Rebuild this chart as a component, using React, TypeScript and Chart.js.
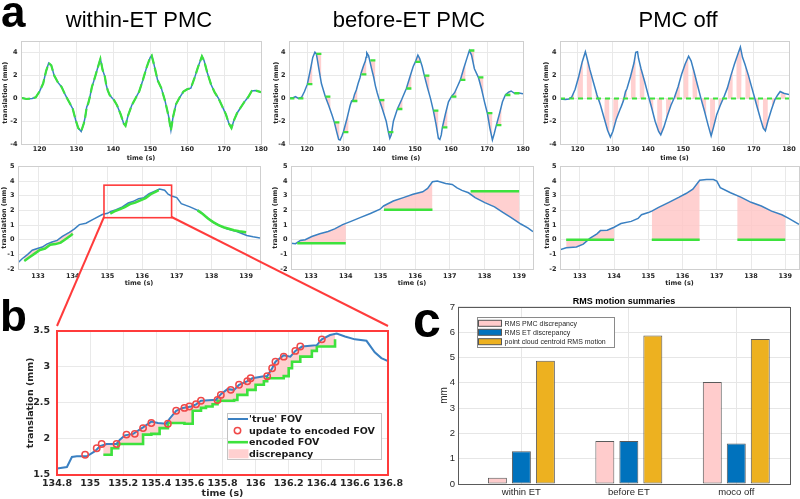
import React, { useEffect, useRef } from "react";
import { Chart, registerables } from "chart.js";

Chart.register(...registerables);

type Pt = [number, number];
type Layout = { l: number; t: number; r: number; b: number; yw: number; xh: number; pt: number; pr: number };

// ---------------- panel a, top row (115–180 s) ----------------
const TOP_X: Pt = [115, 180];
const TOP_Y: Pt = [-4, 5];

// ET windows [start, end] (s)
const ET_WINDOWS: Pt[] = [
  [115.1, 116.5], [117.6, 119.0], [120.1, 121.5], [122.6, 124.0], [125.1, 126.5], [127.6, 129.0],
  [130.1, 131.5], [132.6, 134.0], [135.1, 136.5], [137.6, 139.0], [140.1, 141.5], [142.6, 144.0],
  [145.1, 146.5], [147.6, 149.0], [150.1, 151.5], [152.6, 154.0], [155.1, 156.5], [157.6, 159.0],
  [160.1, 161.5], [162.6, 164.0], [165.1, 166.5], [167.6, 169.0], [170.1, 171.5], [172.6, 174.0],
  [175.1, 176.5], [177.6, 179.0],
];

// within-ET PMC: true FOV (encoded FOV follows it)
const WITHIN_TRUE: Pt[] = [
  [115, 0.05], [116.5, -0.05], [118, 0.0], [119, 0.1], [120, 0.6], [121, 1.3], [121.8, 2.4], [122.5, 3.1],
  [123.2, 2.9], [124, 2.0], [125, 1.4], [126, 1.0], [127, 0.3], [128, -0.3], [129, -0.9], [129.8, -1.9],
  [130.5, -2.6], [131.3, -2.9], [132, -2.2], [132.4, -1.62], [132.8, -0.75], [133.2, -0.45], [133.7, 0.2],
  [134.2, 1.0], [134.6, 1.4], [135.1, 1.93], [135.7, 2.6], [136.2, 3.14], [136.5, 3.46], [136.8, 3.0],
  [137.1, 2.5], [137.7, 1.93], [138.1, 1.15], [138.5, 0.7], [139, 0.3], [139.5, 0.1], [140.2, -0.15],
  [141, -0.6], [142, -1.4], [142.8, -2.2], [143.3, -2.4], [144, -1.5], [145, -0.6], [146, 0.0], [147, 0.6],
  [148, 1.6], [149, 2.7], [150, 3.6], [150.4, 3.75], [151, 3.0], [152, 1.6], [153, 0.9], [154, -0.2],
  [155, -1.6], [155.6, -2.8], [156.2, -1.6], [157, -0.5], [158, 0.1], [159, 0.6], [160, 0.8], [161, 0.9],
  [162, 1.8], [163, 2.8], [164, 3.7], [164.6, 3.3], [165.5, 2.2], [166.5, 1.2], [167.5, 0.5], [168.5, 0.0],
  [169.5, -0.7], [170.5, -1.4], [171.3, -2.2], [172, -2.6], [172.7, -1.9], [173.5, -1.3], [174.5, -0.8],
  [175.5, -0.3], [176.5, 0.1], [177.5, 0.65], [178.5, 0.7], [180, 0.55],
];

// before-ET PMC
const BEFORE_TRUE: Pt[] = [
  [115, 0.0], [116, 0.05], [116.8, 0.15], [117.6, 0.0], [118.5, 0.1], [119.3, 0.6], [120.1, 1.25], [121, 2.6],
  [121.6, 3.6], [122.2, 4.05], [122.6, 3.9], [123.3, 2.6], [124, 1.3], [125.1, 0.15], [126, -0.6], [127, -1.5],
  [127.6, -2.1], [128.3, -3.0], [128.8, -3.6], [129.2, -3.65], [129.7, -3.3], [130.1, -2.95], [131, -1.9],
  [132, -0.6], [132.4, -0.23], [132.6, -0.25], [132.9, 0.0], [133.2, 0.35], [133.7, 0.74], [134.2, 1.3],
  [134.7, 1.79], [135.1, 2.3], [135.7, 2.87], [136.2, 3.27], [136.4, 3.6], [136.6, 4.0], [137.1, 3.75],
  [137.5, 3.2], [138, 2.53], [138.5, 1.9], [139, 1.1], [139.5, 0.5], [140.1, -0.15], [141, -1.0], [142, -2.0],
  [142.6, -2.95], [143, -3.5], [143.4, -3.2], [144, -2.0], [145.1, -0.93], [146.3, -0.1], [147.6, 0.87],
  [148.6, 1.9], [149.5, 2.8], [150.1, 3.2], [150.8, 3.8], [151.3, 3.5], [152, 2.8], [152.6, 2.0], [153.5, 0.9],
  [154.3, 0.0], [155.1, -1.07], [155.8, -2.2], [156.5, -3.5], [156.9, -3.6], [157.3, -3.2], [157.6, -2.55],
  [158.5, -1.3], [159.3, -0.3], [160.1, 0.15], [161, 0.5], [162, 1.2], [162.6, 1.62], [163.5, 2.6],
  [164.5, 3.6], [165.1, 4.2], [165.7, 3.8], [166.5, 2.6], [167.6, 1.85], [168.5, 0.8], [169.3, -0.3],
  [170.1, -1.3], [170.8, -2.6], [171.5, -3.65], [172, -3.1], [172.6, -2.35], [173.5, -1.3], [174.3, -0.3],
  [175.1, 0.3], [176, 0.55], [176.7, 0.65], [177.6, 0.45], [178.5, 0.5], [180, 0.4],
];
const BEFORE_LEVELS: number[] = [
  0, 0, 1.25, 3.9, 0.15, -2.1, -2.95, -0.23, 2.1, 3.33, -0.15, -2.95, -0.93, 0.87, 3.2, 2.0, -1.07,
  -2.55, 0.15, 1.62, 4.2, 1.85, -1.3, -2.35, 0.3, 0.45,
];

// PMC off
const OFF_TRUE: Pt[] = [
  [115, -0.05], [116.5, -0.1], [117.5, -0.05], [118.3, 0.1], [119.3, 0.8], [120.3, 1.9], [121.3, 3.2],
  [122.2, 4.1], [122.7, 3.5], [123.5, 2.5], [124.5, 1.4], [125.5, 0.3], [126.5, -0.6], [127.5, -1.7],
  [128.5, -2.8], [129.3, -3.4], [130, -2.9], [131, -1.8], [132, -1.0], [132.4, -0.7], [133, -0.2],
  [133.6, 0.6], [134, 0.85], [135, 1.9], [136, 3.1], [136.5, 4.05], [137, 4.1], [137.3, 3.5], [138, 2.6],
  [139, 1.5], [140.2, 0.1], [141, -0.8], [142, -2.0], [143, -2.9], [143.6, -3.2], [144.5, -2.5],
  [145.5, -1.5], [146.5, -0.6], [147.5, 0.1], [148.5, 1.0], [149.5, 2.1], [150.5, 3.0], [151.5, 3.7],
  [152.2, 3.3], [153, 2.4], [154, 1.2], [155, 0.0], [156, -1.1], [157, -2.3], [157.9, -3.3], [158.6, -2.5],
  [159.5, -1.4], [160.5, -0.6], [161.5, 0.1], [162.5, 0.9], [163.5, 2.0], [164.5, 3.0], [165.5, 3.9],
  [166.2, 4.5], [166.8, 3.6], [167.5, 3.0], [168.5, 2.0], [169.3, 1.1], [170.2, 0.1], [171, -0.8],
  [172, -1.9], [172.7, -2.6], [173.3, -2.85], [174, -2.0], [175, -1.0], [176, -0.1], [176.8, 0.3],
  [177.5, 0.6], [178.5, 0.45], [180, 0.35],
];
const OFF_LEVEL = 0;

// ---------------- panel a, bottom row (zoom 132.4–139.4 s) ----------------
const ZOOM_X: Pt = [132.42, 139.4];
const ZOOM_Y: Pt = [-2, 5];
const ZOOM_WINDOWS: Pt[] = [[132.6, 134.0], [135.1, 136.5], [137.6, 139.0]];

const WITHIN_ZOOM_TRUE: Pt[] = [
  [132.4, -1.62], [132.54, -1.3], [132.7, -1.0], [132.83, -0.72], [133.0, -0.58], [133.12, -0.5],
  [133.25, -0.3], [133.4, -0.16], [133.55, -0.05], [133.7, 0.22], [133.9, 0.5], [134.05, 0.74],
  [134.19, 1.03], [134.38, 1.12], [134.6, 1.4], [134.85, 1.72], [135.0, 1.8], [135.1, 1.93], [135.25, 2.05],
  [135.43, 2.24], [135.6, 2.5], [135.73, 2.6], [135.9, 2.8], [136.05, 2.87], [136.2, 3.14], [136.35, 3.3],
  [136.5, 3.46], [136.65, 3.38], [136.75, 3.1], [136.85, 2.98], [137.0, 2.87], [137.13, 2.46],
  [137.38, 2.24], [137.67, 1.93], [137.85, 1.55], [138.05, 1.19], [138.25, 0.95], [138.44, 0.74],
  [138.73, 0.56], [139.02, 0.29], [139.2, 0.2], [139.4, 0.12],
];
const WITHIN_ZOOM_ENC: Pt[][] = [
  [[132.6, -1.45], [132.75, -1.2], [132.9, -0.95], [133.05, -0.7], [133.2, -0.6], [133.35, -0.35],
    [133.5, -0.3], [133.65, -0.2], [133.8, 0.05], [133.95, 0.3], [134.0, 0.4]],
  [[135.08, 1.78], [135.2, 1.93], [135.35, 2.07], [135.5, 2.22], [135.65, 2.43], [135.8, 2.53],
    [135.95, 2.68], [136.1, 2.84], [136.25, 3.1], [136.4, 3.28], [136.48, 3.38]],
  [[137.6, 2.0], [137.75, 1.75], [137.9, 1.45], [138.05, 1.2], [138.2, 1.0], [138.35, 0.85],
    [138.5, 0.75], [138.65, 0.65], [138.8, 0.58], [138.95, 0.52], [139.0, 0.5]],
];

const BEFORE_ZOOM_TRUE: Pt[] = [
  [132.38, -0.23], [132.55, -0.27], [132.69, -0.05], [132.83, 0], [133.02, 0.22], [133.25, 0.4],
  [133.49, 0.56], [133.68, 0.74], [133.91, 1.03], [134.15, 1.25], [134.43, 1.52], [134.71, 1.79],
  [134.99, 2.08], [135.09, 2.3], [135.37, 2.64], [135.66, 2.87], [135.94, 3.1], [136.22, 3.27],
  [136.36, 3.5], [136.5, 3.95], [136.64, 4.0], [136.88, 3.83], [137.07, 3.77], [137.21, 3.54],
  [137.35, 3.36], [137.54, 3.2], [137.73, 2.87], [138.01, 2.53], [138.29, 2.24], [138.53, 1.86],
  [138.76, 1.52], [139.05, 1.07], [139.25, 0.8], [139.4, 0.55],
];
const BEFORE_ZOOM_LEVELS: number[] = [-0.25, 2.05, 3.3];

const OFF_ZOOM_TRUE: Pt[] = [
  [132.4, -0.7], [132.6, -0.55], [132.9, -0.5], [133.1, -0.3], [133.3, 0.1], [133.5, 0.4], [133.6, 0.62],
  [133.8, 0.65], [134.0, 0.85], [134.2, 1.1], [134.5, 1.25], [134.7, 1.45], [134.8, 1.7], [135.0, 1.85],
  [135.1, 1.95], [135.3, 2.2], [135.6, 2.55], [135.9, 2.9], [136.1, 3.15], [136.3, 3.45], [136.5, 4.05],
  [136.7, 4.1], [136.9, 4.1], [137.0, 4.0], [137.1, 3.55], [137.4, 3.2], [137.7, 2.9], [138.0, 2.55],
  [138.3, 2.3], [138.6, 1.95], [138.9, 1.7], [139.1, 1.45], [139.4, 1.05],
];

// red zoom box drawn on the within-ET zoom plot: [x0, x1, y0, y1]
const ZOOM_BOX = [134.9, 136.85, 1.5, 3.72];

// ---------------- panel b ----------------
const B_X: Pt = [134.8, 136.8];
const B_Y: Pt = [1.5, 3.5];
const B_TRUE: Pt[] = [
  [134.8, 1.59], [134.86, 1.61], [134.89, 1.75], [134.92, 1.76], [134.98, 1.76], [135.03, 1.83],
  [135.06, 1.9], [135.1, 1.93], [135.16, 1.93], [135.18, 1.99], [135.21, 2.05], [135.26, 2.07],
  [135.32, 2.16], [135.37, 2.24], [135.41, 2.22], [135.46, 2.21], [135.48, 2.28], [135.52, 2.39],
  [135.56, 2.43], [135.61, 2.45], [135.64, 2.48], [135.67, 2.53], [135.74, 2.54], [135.76, 2.54],
  [135.79, 2.62], [135.83, 2.69], [135.87, 2.68], [135.9, 2.75], [135.95, 2.8], [135.98, 2.84],
  [136.05, 2.87], [136.07, 2.87], [136.1, 2.98], [136.12, 3.07], [136.17, 3.16], [136.21, 3.14],
  [136.24, 3.22], [136.28, 3.28], [136.33, 3.29], [136.37, 3.3], [136.4, 3.38], [136.45, 3.44],
  [136.49, 3.46], [136.54, 3.42], [136.6, 3.38], [136.67, 3.36], [136.72, 3.2], [136.76, 3.12],
  [136.8, 3.08],
];
const B_UPDATES: Pt[] = [
  [134.97, 1.78], [135.04, 1.87], [135.07, 1.93], [135.16, 1.93], [135.22, 2.06], [135.27, 2.07],
  [135.32, 2.15], [135.37, 2.22], [135.47, 2.21], [135.52, 2.39], [135.57, 2.43], [135.6, 2.45],
  [135.64, 2.48], [135.67, 2.53], [135.77, 2.54], [135.79, 2.61], [135.85, 2.68], [135.9, 2.75],
  [135.95, 2.8], [135.97, 2.84], [136.07, 2.87], [136.1, 2.98], [136.12, 3.07], [136.17, 3.14],
  [136.24, 3.22], [136.27, 3.28], [136.4, 3.38],
];
const B_ENCODED: Pt[] = [
  [135.08, 1.78], [135.13, 1.87], [135.17, 1.93], [135.32, 2.06], [135.37, 2.07], [135.42, 2.15],
  [135.47, 2.22], [135.57, 2.21], [135.62, 2.39], [135.67, 2.43], [135.7, 2.45], [135.74, 2.48],
  [135.77, 2.53], [135.87, 2.54], [135.89, 2.61], [135.95, 2.68], [136.0, 2.75], [136.05, 2.8],
  [136.07, 2.84], [136.17, 2.87], [136.2, 2.98], [136.22, 3.07], [136.27, 3.14], [136.34, 3.22],
  [136.37, 3.28], [136.48, 3.38],
];
const LEGEND_B = ["'true' FOV", "update to encoded FOV", "encoded FOV", "discrepancy"];

// ---------------- panel c ----------------
const CATEGORIES = ["within ET", "before ET", "moco off"];
const CATEGORY_X = [1, 2, 3];
const RMS_PMC = [0.25, 1.7, 4.03];
const RMS_ET = [1.3, 1.7, 1.6];
const RMS_CENTROID = [4.87, 5.87, 5.73];
const LEGEND_C = ["RMS PMC discrepancy", "RMS ET discrepancy", "point cloud centroid RMS motion"];

// ---------------- layout ----------------
const L1: Layout = { l: 21, t: 40, r: 261, b: 144, yw: 21, xh: 18, pt: 6, pr: 10 };
const L2: Layout = { l: 289, t: 40, r: 523, b: 144, yw: 19, xh: 18, pt: 6, pr: 10 };
const L3: Layout = { l: 560, t: 40, r: 789, b: 144, yw: 20, xh: 18, pt: 6, pr: 10 };
const L4: Layout = { l: 18, t: 165, r: 260, b: 269, yw: 18, xh: 18, pt: 6, pr: 8 };
const L5: Layout = { l: 291, t: 165, r: 533, b: 269, yw: 20, xh: 18, pt: 6, pr: 6 };
const L6: Layout = { l: 560, t: 165, r: 799, b: 269, yw: 20, xh: 18, pt: 6, pr: 1 };
const LB: Layout = { l: 57, t: 326, r: 388, b: 475, yw: 57, xh: 24, pt: 8, pr: 19 };
const LC: Layout = { l: 458, t: 307, r: 790, b: 484, yw: 30, xh: 15, pt: 11, pr: 5 };

const FONT_A = "'DejaVu Sans', sans-serif";
const FONT_C = "'Liberation Sans', Arial, Helvetica, sans-serif";
const BLUE = "#3a80c2";
const GREEN = "#3de23d";
const PINK = "rgba(255, 196, 196, 0.8)";
const RED = "#ff3b3b";
const TEXT = "#262626";
const GRID = "#e9e9e9";

const rectOf = (L: Layout) => ({
  left: L.l - L.yw,
  top: L.t - L.pt,
  width: L.r + L.pr - (L.l - L.yw),
  height: L.b + L.xh - (L.t - L.pt),
});

const toXY = (pts: Pt[]) => pts.map(([x, y]) => ({ x, y }));
const stepsOf = (wins: Pt[], levels: number[]) => {
  const out: { x: number; y: number | null }[] = [];
  wins.forEach(([s, e], i) => {
    out.push({ x: s, y: levels[i] }, { x: e, y: levels[i] }, { x: e, y: null });
  });
  return out;
};
const joinSegs = (segs: Pt[][]) => {
  const out: { x: number; y: number | null }[] = [];
  segs.forEach((seg) => {
    seg.forEach(([x, y]) => out.push({ x, y }));
    out.push({ x: seg[seg.length - 1][0], y: null });
  });
  return out;
};
const fmt = (v: any) => String(Math.round(Number(v) * 100) / 100);

const framePlugin = (color: string, width: number) => ({
  id: "frame",
  afterDraw(chart: any) {
    const { ctx, chartArea: a } = chart;
    ctx.save();
    ctx.strokeStyle = color;
    ctx.lineWidth = width;
    const off = width % 2 === 1 ? 0.5 : 0;
    ctx.strokeRect(Math.round(a.left) + off, Math.round(a.top) + off, Math.round(a.right - a.left), Math.round(a.bottom - a.top));
    ctx.restore();
  },
});

const zoomBoxPlugin = {
  id: "zoomBox",
  afterDatasetsDraw(chart: any) {
    const { ctx, scales } = chart;
    const x0 = scales.x.getPixelForValue(ZOOM_BOX[0]);
    const x1 = scales.x.getPixelForValue(ZOOM_BOX[1]);
    const y0 = scales.y.getPixelForValue(ZOOM_BOX[2]);
    const y1 = scales.y.getPixelForValue(ZOOM_BOX[3]);
    ctx.save();
    ctx.strokeStyle = RED;
    ctx.lineWidth = 1.6;
    ctx.strokeRect(x0, y1, x1 - x0, y0 - y1);
    ctx.restore();
  },
};

const legendBPlugin = {
  id: "legendB",
  afterDraw(chart: any) {
    const { ctx, chartArea: a } = chart;
    const w = 154, h = 46;
    const x = Math.round(a.right - 7 - w), y = Math.round(a.bottom - 16 - h);
    ctx.save();
    ctx.fillStyle = "#ffffff";
    ctx.fillRect(x, y, w, h);
    ctx.strokeStyle = "#c4c4c4";
    ctx.lineWidth = 1;
    ctx.strokeRect(x + 0.5, y + 0.5, w, h);
    const rows = [6, 17.6, 29.2, 40.8];
    ctx.font = `bold 9.5px ${FONT_A}`;
    ctx.textBaseline = "middle";
    LEGEND_B.forEach((label, i) => {
      const ry = y + rows[i];
      if (i === 0 || i === 2) {
        ctx.strokeStyle = i === 0 ? BLUE : GREEN;
        ctx.lineWidth = i === 0 ? 2 : 2.6;
        ctx.beginPath();
        ctx.moveTo(x + 1, ry);
        ctx.lineTo(x + 21, ry);
        ctx.stroke();
      } else if (i === 1) {
        ctx.strokeStyle = "#f04848";
        ctx.lineWidth = 1.5;
        ctx.beginPath();
        ctx.arc(x + 10.5, ry, 3.2, 0, Math.PI * 2);
        ctx.stroke();
      } else {
        ctx.fillStyle = PINK;
        ctx.fillRect(x + 1.5, ry - 4.5, 20, 9);
      }
      ctx.fillStyle = "#1a1a1a";
      ctx.fillText(label, x + 22, ry + 0.5);
    });
    ctx.restore();
  },
};

const legendCPlugin = {
  id: "legendC",
  afterDraw(chart: any) {
    const { ctx, chartArea: a } = chart;
    const x = Math.round(a.left + 18.7), y = Math.round(a.top + 10), w = 137, h = 30;
    ctx.save();
    ctx.fillStyle = "#ffffff";
    ctx.fillRect(x, y, w, h);
    ctx.strokeStyle = "#8a8a8a";
    ctx.lineWidth = 1;
    ctx.strokeRect(x + 0.5, y + 0.5, w, h);
    const rows = [6.3, 15.3, 24.7];
    const colors = ["#ffcccc", "#0072bd", "#edb120"];
    ctx.font = `7px ${FONT_C}`;
    ctx.textBaseline = "middle";
    LEGEND_C.forEach((label, i) => {
      const ry = y + rows[i];
      ctx.fillStyle = colors[i];
      ctx.fillRect(x + 1.5, ry - 3, 23, 6);
      ctx.strokeStyle = "#555";
      ctx.strokeRect(x + 1.5, ry - 3, 23, 6);
      ctx.fillStyle = TEXT;
      ctx.fillText(label, x + 27.6, ry + 0.5);
    });
    ctx.restore();
  },
};

type LineSpec = {
  L: Layout; xr: Pt; xstep: number; yr: Pt; ystep: number; size: number;
  yTitlePad: number; xTickPad: number; yTickPad: number;
  datasets: any[]; plugins: any[];
};

function makeLine(canvas: HTMLCanvasElement, s: LineSpec) {
  const font = { family: FONT_A, weight: "bold" as const, size: s.size };
  return new Chart(canvas, {
    type: "line",
    data: { datasets: s.datasets },
    options: {
      responsive: false,
      animation: false,
      events: [],
      layout: { padding: { top: s.L.pt, right: s.L.pr, left: 0, bottom: 0 } },
      elements: { point: { radius: 0 }, line: { tension: 0 } },
      plugins: {
        legend: { display: false },
        tooltip: { enabled: false },
        filler: { drawTime: "beforeDatasetsDraw" },
      } as any,
      scales: {
        x: {
          type: "linear",
          min: s.xr[0],
          max: s.xr[1],
          ticks: {
            stepSize: s.xstep, autoSkip: false, maxRotation: 0, minRotation: 0, includeBounds: false,
            padding: s.xTickPad, color: TEXT, font, callback: fmt,
          },
          grid: { color: GRID, drawTicks: false },
          border: { display: false },
          title: { display: true, text: "time (s)", color: TEXT, font, padding: 0 },
          afterFit: (sc: any) => { sc.height = s.L.xh; },
        },
        y: {
          type: "linear",
          min: s.yr[0],
          max: s.yr[1],
          ticks: {
            stepSize: s.ystep, autoSkip: false, includeBounds: false, padding: s.yTickPad,
            color: TEXT, font, callback: fmt,
          },
          grid: { color: GRID, drawTicks: false },
          border: { display: false },
          title: { display: true, text: "translation (mm)", color: TEXT, font, padding: { top: s.yTitlePad, bottom: 0 } },
          afterFit: (sc: any) => { sc.width = s.L.yw; },
        },
      } as any,
    },
    plugins: s.plugins,
  });
}

const fillPink = (target: number) => ({ target, above: PINK, below: PINK });

const topSpec = (L: Layout, yTitlePad: number, datasets: any[]): LineSpec => ({
  L, xr: TOP_X, xstep: 10, yr: TOP_Y, ystep: 2, size: 6.5, yTitlePad, xTickPad: 1.5, yTickPad: 3.5,
  datasets, plugins: [framePlugin("#cfcfcf", 1)],
});
const zoomSpec = (L: Layout, yTitlePad: number, datasets: any[], extra: any[] = []): LineSpec => ({
  L, xr: ZOOM_X, xstep: 1, yr: ZOOM_Y, ystep: 1, size: 6.5, yTitlePad, xTickPad: 3, yTickPad: 3.5,
  datasets, plugins: [framePlugin("#cfcfcf", 1), ...extra],
});

type ChartDef = { key: string; rect: { left: number; top: number; width: number; height: number }; make: (c: HTMLCanvasElement) => Chart };

const CHARTS: ChartDef[] = [
  {
    key: "a1", rect: rectOf(L1),
    make: (c) => makeLine(c, topSpec(L1, 1, [
      { data: toXY(WITHIN_TRUE), borderColor: GREEN, borderWidth: 2.2, borderDash: [9, 4] },
      { data: toXY(WITHIN_TRUE), borderColor: BLUE, borderWidth: 1.5 },
    ])),
  },
  {
    key: "a2", rect: rectOf(L2),
    make: (c) => makeLine(c, topSpec(L2, 2, [
      { data: stepsOf(ET_WINDOWS, BEFORE_LEVELS), borderColor: GREEN, borderWidth: 2.3 },
      { data: toXY(BEFORE_TRUE), borderColor: BLUE, borderWidth: 1.5, fill: fillPink(0) },
    ])),
  },
  {
    key: "a3", rect: rectOf(L3),
    make: (c) => makeLine(c, topSpec(L3, 2.8, [
      { data: toXY([[TOP_X[0], OFF_LEVEL], [TOP_X[1], OFF_LEVEL]]), borderColor: GREEN, borderWidth: 2, borderDash: [5, 4] },
      { data: toXY(OFF_TRUE), borderColor: BLUE, borderWidth: 1.5, fill: fillPink(2) },
      { data: stepsOf(ET_WINDOWS, ET_WINDOWS.map(() => OFF_LEVEL)), borderColor: "rgba(0,0,0,0)", borderWidth: 1 },
    ])),
  },
  {
    key: "a4", rect: rectOf(L4),
    make: (c) => makeLine(c, zoomSpec(L4, 0.5, [
      { data: joinSegs(WITHIN_ZOOM_ENC), borderColor: GREEN, borderWidth: 2.5 },
      { data: toXY(WITHIN_ZOOM_TRUE), borderColor: BLUE, borderWidth: 1.5, fill: fillPink(0) },
    ], [zoomBoxPlugin])),
  },
  {
    key: "a5", rect: rectOf(L5),
    make: (c) => makeLine(c, zoomSpec(L5, 0.2, [
      { data: stepsOf(ZOOM_WINDOWS, BEFORE_ZOOM_LEVELS), borderColor: GREEN, borderWidth: 2.5 },
      { data: toXY(BEFORE_ZOOM_TRUE), borderColor: BLUE, borderWidth: 1.5, fill: fillPink(0) },
    ])),
  },
  {
    key: "a6", rect: rectOf(L6),
    make: (c) => makeLine(c, zoomSpec(L6, 3.4, [
      { data: stepsOf(ZOOM_WINDOWS, ZOOM_WINDOWS.map(() => OFF_LEVEL)), borderColor: GREEN, borderWidth: 2.5 },
      { data: toXY(OFF_ZOOM_TRUE), borderColor: BLUE, borderWidth: 1.5, fill: fillPink(0) },
    ])),
  },
  {
    key: "b", rect: rectOf(LB),
    make: (c) => makeLine(c, {
      L: LB, xr: B_X, xstep: 0.2, yr: B_Y, ystep: 0.5, size: 9.5, yTitlePad: 25, xTickPad: 2.6, yTickPad: 7,
      datasets: [
        { data: toXY(B_UPDATES), showLine: false, pointRadius: 3.2, pointBorderColor: "#f04848", pointBackgroundColor: "rgba(0,0,0,0)", pointBorderWidth: 1.5 },
        { data: toXY(B_TRUE), borderColor: BLUE, borderWidth: 2, fill: fillPink(2) },
        { data: toXY(B_ENCODED), borderColor: GREEN, borderWidth: 2.6, stepped: "before" },
      ],
      plugins: [framePlugin(RED, 2), legendBPlugin],
    }),
  },
  {
    key: "c", rect: rectOf(LC),
    make: (c) => {
      const tickFont = { family: FONT_C, size: 9.5 };
      const bar = (label: string, vals: number[], color: string) => ({
        label,
        data: CATEGORY_X.map((x, i) => ({ x, y: vals[i] })),
        backgroundColor: color,
        borderColor: "#5a5a5a",
        borderWidth: 1,
        borderSkipped: false,
        categoryPercentage: 0.67,
        barPercentage: 0.79,
      });
      return new Chart(c, {
        type: "bar",
        data: {
          datasets: [
            bar(LEGEND_C[0], RMS_PMC, "#ffcccc"),
            bar(LEGEND_C[1], RMS_ET, "#0072bd"),
            bar(LEGEND_C[2], RMS_CENTROID, "#edb120"),
          ] as any,
        },
        options: {
          responsive: false,
          animation: false,
          events: [],
          layout: { padding: { top: 0.2, right: LC.pr, left: 0, bottom: 0 } },
          plugins: {
            legend: { display: false },
            tooltip: { enabled: false },
            title: {
              display: true, text: "RMS motion summaries", color: "#000", fullSize: false,
              font: { family: FONT_C, size: 9, weight: "bold" }, padding: 0,
            },
          } as any,
          scales: {
            x: {
              type: "linear", min: 0.41, max: 3.5, offset: false,
              grid: { offset: false, color: "#e6e6e6", drawTicks: false },
              border: { display: false },
              afterBuildTicks: (sc: any) => { sc.ticks = CATEGORY_X.map((v) => ({ value: v })); },
              ticks: {
                autoSkip: false, maxRotation: 0, padding: 2.3, color: TEXT, font: tickFont,
                callback: (v: any) => CATEGORIES[CATEGORY_X.indexOf(Number(v))] ?? "",
              },
              afterFit: (sc: any) => { sc.height = LC.xh; },
            },
            y: {
              type: "linear", min: 0, max: 7,
              ticks: { stepSize: 1, padding: 3, color: TEXT, font: tickFont },
              grid: { color: "#e6e6e6", drawTicks: false },
              border: { display: false },
              title: { display: true, text: "mm", color: TEXT, font: { family: FONT_C, size: 10 }, padding: { top: 10, bottom: 0 } },
              afterFit: (sc: any) => { sc.width = LC.yw; },
            },
          } as any,
        },
        plugins: [framePlugin("#5a5a5a", 1), legendCPlugin],
      });
    },
  },
];

function ChartCanvas({ def }: { def: ChartDef }) {
  const ref = useRef<HTMLCanvasElement>(null);
  useEffect(() => {
    const chart = def.make(ref.current!);
    return () => chart.destroy();
  }, [def]);
  const r = def.rect;
  return (
    <canvas
      ref={ref}
      width={r.width}
      height={r.height}
      style={{ position: "absolute", left: r.left, top: r.top, width: r.width, height: r.height }}
    />
  );
}

const px = (L: Layout, xr: Pt, v: number) => L.l + ((v - xr[0]) / (xr[1] - xr[0])) * (L.r - L.l);
const py = (L: Layout, yr: Pt, v: number) => L.b - ((v - yr[0]) / (yr[1] - yr[0])) * (L.b - L.t);

export default function App() {
  const boxBL = { x: px(L4, ZOOM_X, ZOOM_BOX[0]), y: py(L4, ZOOM_Y, ZOOM_BOX[2]) };
  const boxBR = { x: px(L4, ZOOM_X, ZOOM_BOX[1]), y: py(L4, ZOOM_Y, ZOOM_BOX[2]) };
  const titleFont = { fontFamily: "'Liberation Sans', Arial, Helvetica, sans-serif" };
  return (
    <div style={{ position: "fixed", left: 0, top: 0, width: 800, height: 499, background: "#fff", overflow: "hidden" }}>
      {CHARTS.map((d) => <ChartCanvas key={d.key} def={d} />)}
      <svg width={800} height={499} style={{ position: "absolute", left: 0, top: 0, pointerEvents: "none" }}>
        <line x1={boxBL.x} y1={boxBL.y} x2={LB.l} y2={LB.t} stroke={RED} strokeWidth={2} />
        <line x1={boxBR.x} y1={boxBR.y} x2={LB.r} y2={LB.t} stroke={RED} strokeWidth={2} />
        <g style={titleFont} fill="#000">
          <text x={1} y={27} fontSize={44} fontWeight="bold">a</text>
          <text x={0} y={331} fontSize={44} fontWeight="bold">b</text>
          <text x={413} y={337} fontSize={50} fontWeight="bold">c</text>
          <text x={139} y={27} fontSize={22} textAnchor="middle">within-ET PMC</text>
          <text x={409} y={27} fontSize={22} textAnchor="middle">before-ET PMC</text>
          <text x={678} y={27} fontSize={22} textAnchor="middle">PMC off</text>
        </g>
      </svg>
    </div>
  );
}
